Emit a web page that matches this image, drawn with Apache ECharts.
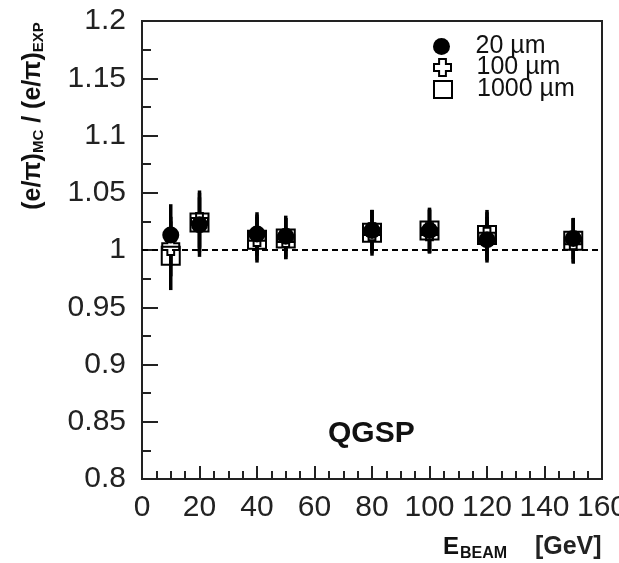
<!DOCTYPE html>
<html>
<head>
<meta charset="utf-8">
<script src="https://cdn.jsdelivr.net/npm/echarts@6/dist/echarts.min.js"></script>
<style>
html,body{margin:0;padding:0;background:#fff;}
#chart{width:619px;height:563px;}
</style>
</head>
<body>
<div id="chart"></div>
<script>
// ---- data ----
var energies = [10, 20, 40, 50, 80, 100, 120, 150];
var ratio20 = [1.013, 1.022, 1.014, 1.012, 1.017, 1.017, 1.009, 1.010];
var ratio100 = [1.003, 1.025, 1.011, 1.010, 1.016, 1.016, 1.012, 1.008];
var ratio1000 = [0.995, 1.024, 1.009, 1.010, 1.015, 1.017, 1.013, 1.008];
var err20 = [0.027, 0.028, 0.019, 0.018, 0.018, 0.019, 0.020, 0.018];
var err100 = [0.026, 0.027, 0.020, 0.018, 0.019, 0.019, 0.021, 0.019];
var err1000 = [0.030, 0.022, 0.020, 0.018, 0.020, 0.020, 0.022, 0.020];
var seriesNames = ['20 µm', '100 µm', '1000 µm'];
var xTicks = [0, 20, 40, 60, 80, 100, 120, 140, 160];
var yTicks = [0.8, 0.85, 0.9, 0.95, 1, 1.05, 1.1, 1.15, 1.2];

var FONT = '"Liberation Sans", Arial, Helvetica, sans-serif';
var crossPath = 'path://M3,0 H7 V3 H10 V7 H7 V10 H3 V7 H0 V3 H3 Z';

function pairs(v) { return energies.map(function (e, i) { return [e, v[i]]; }); }
function errData(v, er) { return energies.map(function (e, i) { return [e, v[i] - er[i], v[i] + er[i]]; }); }

function errSeries(v, er) {
  return {
    type: 'custom',
    data: errData(v, er),
    z: 2,
    silent: true,
    renderItem: function (params, api) {
      var lo = api.coord([api.value(0), api.value(1)]);
      var hi = api.coord([api.value(0), api.value(2)]);
      return {
        type: 'line',
        shape: { x1: lo[0], y1: lo[1], x2: hi[0], y2: hi[1] },
        style: { stroke: '#000', lineWidth: 3.5 }
      };
    },
    encode: { x: 0, y: [1, 2] }
  };
}

var chart = echarts.init(document.getElementById('chart'));
var legendCommon = {
  orient: 'vertical',
  itemWidth: 18,
  itemHeight: 17,
  itemGap: 0,
  padding: 0,
  left: 433,
  textStyle: { fontSize: 25, fontFamily: FONT, color: '#111', padding: [0, 0, 0, 20] }
};
chart.setOption({
  backgroundColor: '#fff',
  animation: false,
  grid: { left: 142, right: 17, top: 21, bottom: 84, show: true, borderColor: '#222', borderWidth: 2,
    backgroundColor: 'transparent', containLabel: false, outerBoundsMode: 'none' },
  legend: [
    Object.assign({}, legendCommon, { data: [seriesNames[0]], top: 34 }),
    Object.assign({}, legendCommon, { data: [seriesNames[1]], top: 55 }),
    Object.assign({}, legendCommon, { data: [seriesNames[2]], top: 77 })
  ],
  xAxis: {
    type: 'value', min: xTicks[0], max: xTicks[xTicks.length - 1], interval: xTicks[1] - xTicks[0],
    axisLine: { lineStyle: { color: '#222', width: 2 } },
    axisTick: { inside: true, length: 13, lineStyle: { color: '#222', width: 2 } },
    minorTick: { show: true, splitNumber: 4, length: 8, lineStyle: { color: '#222', width: 2 } },
    splitLine: { show: false },
    axisLabel: { fontSize: 30, fontFamily: FONT, color: '#222', margin: 14, showMaxLabel: true, hideOverlap: false }
  },
  yAxis: {
    type: 'value', min: yTicks[0], max: yTicks[yTicks.length - 1], interval: 0.05,
    axisLine: { lineStyle: { color: '#222', width: 2 } },
    axisTick: { inside: true, length: 16, lineStyle: { color: '#222', width: 2 } },
    minorTick: { show: true, splitNumber: 2, length: 9, lineStyle: { color: '#222', width: 2 } },
    splitLine: { show: false },
    axisLabel: { fontSize: 30, fontFamily: FONT, color: '#222', margin: 16,
      formatter: function (v) { return String(+(+v).toFixed(2)); } }
  },
  series: [
    errSeries(ratio100, err100),
    errSeries(ratio1000, err1000),
    errSeries(ratio20, err20),
    {
      name: seriesNames[1], type: 'scatter', data: pairs(ratio100), z: 3,
      symbol: crossPath, symbolSize: 17,
      itemStyle: { color: '#fff', borderColor: '#000', borderWidth: 2, opacity: 1 },
      markLine: {
        silent: true, symbol: ['none', 'none'], label: { show: false },
        lineStyle: { color: '#000', type: [6, 4], width: 2 },
        data: [{ yAxis: 1 }]
      }
    },
    {
      name: seriesNames[2], type: 'scatter', data: pairs(ratio1000), z: 4,
      symbol: 'rect', symbolSize: 18,
      itemStyle: { color: 'rgba(255,255,255,0)', borderColor: '#000', borderWidth: 2, opacity: 1 }
    },
    {
      name: seriesNames[0], type: 'scatter', data: pairs(ratio20), z: 5,
      symbol: 'circle', symbolSize: 17,
      itemStyle: { color: '#000', opacity: 1 }
    }
  ],
  graphic: [
    {
      type: 'text', x: 33, y: 116, rotation: Math.PI / 2,
      style: {
        text: '{m|(e/π)}{s|MC}{m| / (e/π)}{s|EXP}',
        align: 'center', verticalAlign: 'middle',
        fill: '#111',
        rich: {
          m: { fontSize: 25, fontWeight: 'bold', fontFamily: FONT, fill: '#111' },
          s: { fontSize: 15, fontWeight: 'bold', fontFamily: FONT, fill: '#111', padding: [12, 0, 0, 0] }
        }
      }
    },
    {
      type: 'text', x: 443, y: 547,
      style: {
        text: '{m|E}{s|BEAM}{g|    [GeV]}',
        align: 'left', verticalAlign: 'middle',
        fill: '#111',
        rich: {
          m: { fontSize: 24, fontWeight: 'bold', fontFamily: FONT, fill: '#111' },
          s: { fontSize: 16, fontWeight: 'bold', fontFamily: FONT, fill: '#111', padding: [14, 0, 0, 1] },
          g: { fontSize: 25, fontWeight: 'bold', fontFamily: FONT, fill: '#222' }
        }
      }
    },
    {
      type: 'text', x: 328, y: 434,
      style: { text: 'QGSP', fontSize: 30, fontWeight: 'bold', fontFamily: FONT, fill: '#111', align: 'left', verticalAlign: 'middle' }
    }
  ]
});
</script>
</body>
</html>
